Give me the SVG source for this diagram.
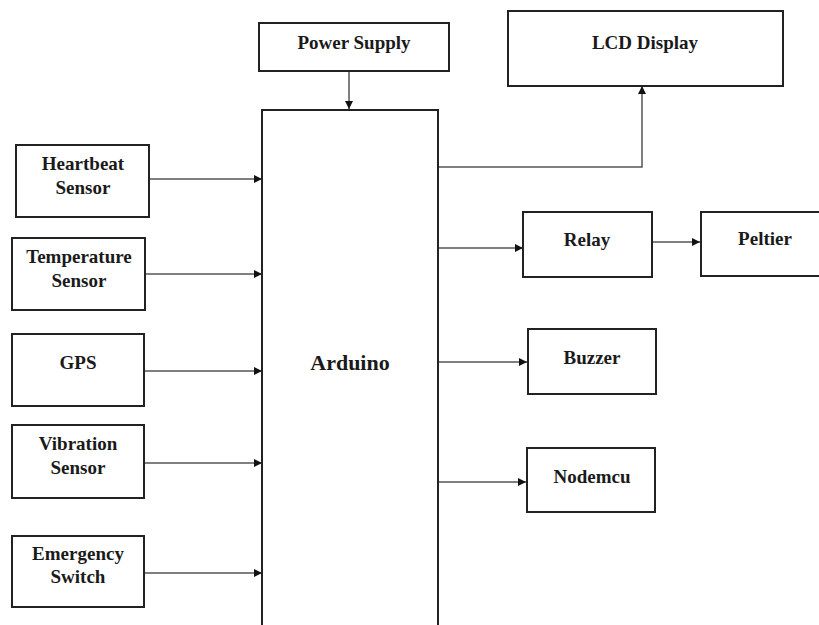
<svg xmlns="http://www.w3.org/2000/svg" width="819" height="625" viewBox="0 0 819 625">
<style>
.box{fill:#fff;stroke:#222;stroke-width:2}
.lbl{font-family:'Liberation Serif','Times New Roman','DejaVu Serif',serif;font-weight:700;font-size:19px;fill:#1a1a1a;text-anchor:middle}
.big{font-size:22px}
.con{fill:none;stroke:#555;stroke-width:1.5}
</style>
<defs>
<marker id="ah" viewBox="0 0 10 10" refX="10" refY="5" markerWidth="8" markerHeight="8" markerUnits="userSpaceOnUse" orient="auto">
<path d="M0,0 L10,5 L0,10 Z" fill="#111"/>
</marker>
</defs>
<rect width="819" height="625" fill="#fff"/>
<g id="connectors">
<path class="con" d="M349,71 V109" marker-end="url(#ah)"/>
<path class="con" d="M149,179 H262" marker-end="url(#ah)"/>
<path class="con" d="M146,274 H262" marker-end="url(#ah)"/>
<path class="con" d="M145,371 H262" marker-end="url(#ah)"/>
<path class="con" d="M145,463 H262" marker-end="url(#ah)"/>
<path class="con" d="M145,573 H262" marker-end="url(#ah)"/>
<path class="con" d="M439,167 H642 V86" marker-end="url(#ah)"/>
<path class="con" d="M439,248 H523" marker-end="url(#ah)"/>
<path class="con" d="M653,242 H700" marker-end="url(#ah)"/>
<path class="con" d="M439,362 H527" marker-end="url(#ah)"/>
<path class="con" d="M439,482 H526" marker-end="url(#ah)"/>
</g>
<g id="power-supply">
<rect class="box" x="259" y="23" width="190" height="48"/>
<text class="lbl" x="354" y="49">Power Supply</text>
</g>
<g id="arduino">
<rect class="box" x="262" y="110" width="176" height="530"/>
<text class="lbl big" x="350" y="370">Arduino</text>
</g>
<g id="heartbeat-sensor">
<rect class="box" x="16" y="145" width="133" height="72"/>
<text class="lbl" x="83" y="170">Heartbeat</text>
<text class="lbl" x="83" y="194">Sensor</text>
</g>
<g id="temperature-sensor">
<rect class="box" x="12" y="238" width="133" height="72"/>
<text class="lbl" x="79" y="263">Temperature</text>
<text class="lbl" x="79" y="287">Sensor</text>
</g>
<g id="gps">
<rect class="box" x="12" y="334" width="132" height="72"/>
<text class="lbl" x="78" y="369">GPS</text>
</g>
<g id="vibration-sensor">
<rect class="box" x="12" y="425" width="132" height="73"/>
<text class="lbl" x="78" y="450">Vibration</text>
<text class="lbl" x="78" y="474">Sensor</text>
</g>
<g id="emergency-switch">
<rect class="box" x="12" y="536" width="132" height="71"/>
<text class="lbl" x="78" y="560">Emergency</text>
<text class="lbl" x="78" y="583">Switch</text>
</g>
<g id="lcd-display">
<rect class="box" x="508" y="11" width="275" height="75"/>
<text class="lbl" x="645" y="49">LCD Display</text>
</g>
<g id="relay">
<rect class="box" x="523" y="212" width="129" height="65"/>
<text class="lbl" x="587" y="246">Relay</text>
</g>
<g id="peltier">
<rect class="box" x="701" y="212" width="122" height="64"/>
<text class="lbl" x="765" y="245">Peltier</text>
</g>
<g id="buzzer">
<rect class="box" x="528" y="329" width="128" height="65"/>
<text class="lbl" x="592" y="364">Buzzer</text>
</g>
<g id="nodemcu">
<rect class="box" x="527" y="448" width="128" height="64"/>
<text class="lbl" x="592" y="483">Nodemcu</text>
</g>
</svg>
